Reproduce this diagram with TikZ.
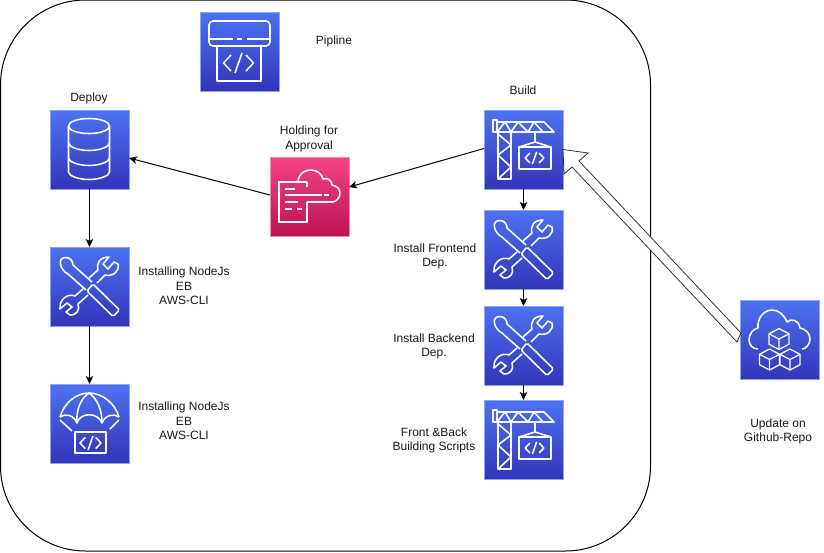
\documentclass[tikz,border=0pt]{standalone}
\usepackage{fontspec}
\setmainfont{Liberation Sans}
\usetikzlibrary{arrows.meta,calc}
\definecolor{bluetop}{HTML}{4D72F3}
\definecolor{bluebot}{HTML}{3334B9}
\definecolor{pinktop}{HTML}{F34482}
\definecolor{pinkbot}{HTML}{BC1356}
\definecolor{blueedge}{HTML}{8FA3F2}
\definecolor{pinkedge}{HTML}{F08DB2}
\tikzset{
  iconblue/.style={draw=blueedge,line width=.8pt,top color=bluetop,bottom color=bluebot,minimum size=79pt,inner sep=0pt,outer sep=0pt},
  iconpink/.style={draw=pinkedge,line width=.8pt,top color=pinktop,bottom color=pinkbot,minimum size=79pt,inner sep=0pt,outer sep=0pt},
  glyph/.style={draw=white,line width=1.55pt,line join=round,line cap=butt},
  flow/.style={draw=black,line width=1pt,-{Stealth[length=8pt,width=7.5pt,inset=2pt]}},
  hollow/.style={draw=black!80,line width=.8pt,fill=white,line join=miter},
  lbl/.style={font=\fontsize{12}{14.4}\selectfont,align=center,text=black!90,inner sep=0pt},
  frame/.style={draw=black,line width=1pt,rounded corners=85pt,minimum width=650pt,minimum height=551pt,inner sep=0pt,outer sep=0pt}
}
\newcommand\codeglyph[3]{% centre x, centre y, scale
  \begin{scope}[shift={(#1,#2)},scale=#3]
    \draw[glyph] (-7.5,-8) -- (-15,0) -- (-7.5,8);
    \draw[glyph] (7.5,-8) -- (15,0) -- (7.5,8);
    \draw[glyph] (3.5,-10) -- (-3.5,10);
  \end{scope}}
\newcommand\glyphpipe{%
  \draw[glyph,rounded corners=4pt] (9,34) -- (9,9) -- (70,9) -- (70,34) -- cycle;
  \draw[glyph] (9,27) -- (33,27) (37,27) -- (42,27) (47,27) -- (70,27);
  \draw[glyph] (17,34) -- (17,69) -- (61,69) -- (61,34);
  \codeglyph{38.5}{51}{1}}
\newcommand\glyphdb{%
  \draw[glyph] (39,16) ellipse (20.5 and 7.5);
  \draw[glyph] (18.5,16) -- (18.5,62) .. controls (18.5,66) and (29,69.5) .. (39,69.5) .. controls (49,69.5) and (59.5,66) .. (59.5,62) -- (59.5,16);
  \draw[glyph] (18.5,33) .. controls (18.5,37) and (29,40.5) .. (39,40.5) .. controls (49,40.5) and (59.5,37) .. (59.5,33);
  \draw[glyph] (18.5,48) .. controls (18.5,52) and (29,55.5) .. (39,55.5) .. controls (49,55.5) and (59.5,52) .. (59.5,48);}
\newcommand\glyphtools{%
  \draw[glyph,rounded corners=1.5pt] (37,44) -- (43,37) -- (69.5,63) -- (63,69.5) -- cycle;
  \draw[glyph] (42,35) -- (23,18) .. controls (23,14) and (20,10.5) .. (16,10.5) .. controls (12,10.5) and (9.5,13) .. (10.5,17) .. controls (11,21) and (14,25) .. (18,27) -- (36,43);
  \draw[glyph] (39,31) -- (48,23) .. controls (46,16) and (50,10) .. (59,10) -- (53,17) -- (58,22) -- (64,15) -- (68,17) .. controls (70,24) and (63,30) .. (55,28) -- (47,36);
  \draw[glyph] (33,42) -- (25,49) .. controls (18,46) and (9,52) .. (10,62) -- (17,56) -- (22,60) -- (16,65) -- (20,68) .. controls (27,68) and (30,63) .. (28,57) -- (38,48);}
\newcommand\glyphchute{%
  \draw[glyph] (10,33) .. controls (14,19) and (26,9) .. (39,9) .. controls (52,9) and (65,19) .. (69,33);
  \draw[glyph] (10,33) .. controls (15,29) and (24,31) .. (27,39) .. controls (30,28) and (48,28) .. (52,39) .. controls (55,31) and (64,29) .. (69,33);
  \draw[glyph] (39,9) .. controls (30,15) and (26,27) .. (27,39);
  \draw[glyph] (39,9) .. controls (48,15) and (52,27) .. (52,39);
  \draw[glyph] (10,36) -- (22,47) (69,36) -- (60,45);
  \draw[glyph] (25,48) rectangle (56,69);
  \codeglyph{40.5}{59}{.7}}
\newcommand\glyphapprove{%
  \draw[glyph] (37,25) -- (9,25) -- (9,65) -- (37,65) -- (37,45);
  \draw[glyph] (37,25) -- (37,30);
  \draw[glyph] (15,32) -- (25,32);
  \draw[glyph] (15,38) -- (52,38) (54,38) -- (59,38);
  \draw[glyph] (15,45) -- (28,45);
  \draw[glyph] (15,52) -- (22,52) (27,52) -- (32,52);
  \draw[glyph] (28,24) .. controls (29,16) and (35,13) .. (41,13) .. controls (47,13) and (52,17) .. (53,22) .. controls (58,20) and (62,24) .. (62,28) .. controls (67,29) and (70,32) .. (70,36) .. controls (70,41) and (66,45) .. (62,45) -- (37,45);}
\newcommand\glyphcrane{%
  \draw[glyph] (9,10) rectangle (13,22);
  \draw[glyph] (13,12) -- (60,12) -- (70,22) -- (13,22);
  \draw[glyph] (13,22) -- (21,12) -- (27,22) -- (34,12) -- (44,22) -- (50,12) -- (59,22);
  \draw[glyph] (14,22) -- (14,69) -- (27,69) -- (27,22);
  \draw[glyph] (14,24) -- (27,35) -- (14,45) -- (27,57) -- (14,69);
  \draw[glyph] (51,22) -- (51,32);
  \draw[glyph] (35,37) -- (51,32) -- (67,37);
  \draw[glyph] (35,37) rectangle (67,59);
  \codeglyph{50.5}{48}{.62}}
\newcommand\cubeglyph[2]{%
  \begin{scope}[shift={(#1,#2)}]
    \draw[glyph,line width=1.3pt] (0,-10.5) -- (10,-5.2) -- (10,5.2) -- (0,10.5) -- (-10,5.2) -- (-10,-5.2) -- cycle;
    \draw[glyph,line width=1.3pt] (-10,-5.2) -- (0,0) -- (10,-5.2) (0,0) -- (0,10.5);
  \end{scope}}
\newcommand\glyphrepo{%
  \draw[glyph] (18,49) .. controls (12,49) and (9,44) .. (9,40) .. controls (9,34) and (13,29) .. (18,28) .. controls (17,18) and (24,10) .. (32,10) .. controls (39,10) and (44,15) .. (47,22) .. controls (51,18) and (59,20) .. (60,28) .. controls (66,29) and (70,34) .. (70,39) .. controls (70,44) and (66,49) .. (62,49);
  \cubeglyph{39}{39}
  \cubeglyph{29.5}{59.5}
  \cubeglyph{50}{59.5}}
\newcommand\awsicon[5]{% name, left, top, style, glyph
  \node[#4] (#1) at (#2+39.5,#3+39.5) {};
  \begin{scope}[shift={(#1.north west)}]#5\end{scope}}
\begin{document}
\begin{tikzpicture}[x=1pt,y=-1pt]
\useasboundingbox (0,0) rectangle (824,552);
\fill[white] (0,0) rectangle (824,552);
\node[frame] (outer) at (325.5,275.5) {};

\awsicon{pipe}{200}{12}{iconblue}{\glyphpipe}
\awsicon{deploy}{50}{110}{iconblue}{\glyphdb}
\awsicon{installA}{50}{247}{iconblue}{\glyphtools}
\awsicon{chute}{50}{384}{iconblue}{\glyphchute}
\awsicon{approve}{270}{157}{iconpink}{\glyphapprove}
\awsicon{build}{484}{110}{iconblue}{\glyphcrane}
\awsicon{front}{484}{210}{iconblue}{\glyphtools}
\awsicon{back}{484}{306}{iconblue}{\glyphtools}
\awsicon{scripts}{484}{400}{iconblue}{\glyphcrane}
\awsicon{repo}{740}{300}{iconblue}{\glyphrepo}

\draw[flow] ($(build.west)+(0,-1)$) -- (approve.east |- 0,187);
\draw[flow] ($(approve.west)+(0,-1.5)$) -- ($(deploy.east)+(0,8.5)$);
\draw[flow] (deploy) -- (installA);
\draw[flow] (installA) -- (chute);
\draw[flow] (build) -- (front);
\draw[flow] (front) -- (back);
\draw[flow] (back) -- (scripts);
\draw[hollow] (build.east) -- ++(25,3.5) -- ++(-9,8) -- ($(repo.west)+(1,-6.5)$) -- ($(repo.west)+(-3,2.5)$) -- ($(build.east)+(9,17.5)$) -- ++(-8,7) -- cycle;

\node[lbl] (tpipe) at (334,41) {Pipline};
\node[lbl] (tdeploy) at (89,98) {Deploy};
\node[lbl] (tbuild) at (523,90.5) {Build};
\node[lbl] (thold) at (309,139) {Holding for\\Approval};
\node[lbl] (tnodeA) at (184,286) {Installing NodeJs\\EB\\AWS-CLI};
\node[lbl] (tnodeB) at (184,421) {Installing NodeJs\\EB\\AWS-CLI};
\node[lbl] (tfront) at (435,256.5) {Install Frontend\\Dep.};
\node[lbl] (tback) at (434,346.5) {Install Backend\\Dep.};
\node[lbl] (tscripts) at (434,440.5) {Front \&Back\\Building Scripts};
\node[lbl] (trepo) at (778,431.5) {Update on\\Github-Repo};
\end{tikzpicture}
\end{document}
